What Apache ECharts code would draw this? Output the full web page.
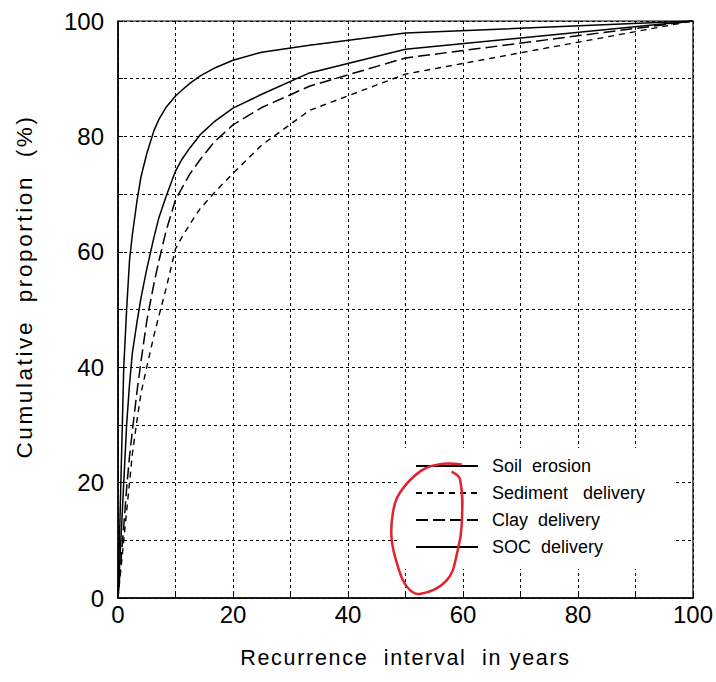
<!DOCTYPE html>
<html>
<head>
<meta charset="utf-8">
<script src="https://cdn.jsdelivr.net/npm/echarts@6/dist/echarts.min.js"></script>
<style>
html,body{margin:0;padding:0;background:#fff;}
#c{width:716px;height:682px;}
#c text{font-family:"Liberation Sans", Arial, sans-serif !important;}
#c text[style*="22.5px"]{letter-spacing:2.6px;}
#c text[style*="21.5px"]{letter-spacing:1.7px;}
</style>
</head>
<body>
<div id="c"></div>
<script>
// Recurrence interval (years) shared by all series
var recurrence = [0, 1, 1.5, 2, 2.5, 3.33, 4, 5, 6.25, 7.14, 8.33, 10, 11.1, 12.5, 14.3, 16.7, 20, 25, 33.3, 50, 100];
var soilErosion = [0, 40, 50, 58.5, 63, 69, 73, 77, 81, 83, 85, 87, 88, 89.2, 90.5, 91.8, 93.2, 94.6, 95.8, 97.9, 100];
var sedimentDelivery = [0, 10, 15, 20, 25, 31, 35.5, 40, 45.5, 49, 53.5, 60.5, 62.5, 64.8, 67.5, 70.2, 73.6, 78.5, 84.5, 90.8, 100];
var clayDelivery = [0, 12.5, 19, 24.5, 29, 36, 41, 48, 54.5, 58.5, 63.5, 69, 71, 73.5, 76, 79, 82, 85, 88.7, 93.6, 100];
var socDelivery = [0, 20, 30, 37, 42.5, 48, 52, 57, 62.5, 66, 69.5, 74, 76, 78, 80.3, 82.5, 84.9, 87.3, 91, 95.1, 100];
var seriesNames = ['Soil  erosion', 'Sediment   delivery', 'Clay  delivery', 'SOC  delivery'];
var xTicks = [0, 20, 40, 60, 80, 100];
var yTicks = [0, 20, 40, 60, 80, 100];
// hand-drawn red loop annotation, in data coordinates
var annotX = [58.0, 59.5, 59.8, 59.1, 57.2, 52.5, 50.2, 48.7, 47.6, 47.8, 49.0, 52.5, 56.0, 59.5, 59.8];
var annotY = [21.9, 20.5, 13.0, 8.3, 3.1, 0.7, 2.0, 5.4, 10.1, 14.7, 18.2, 21.9, 23.2, 23.2, 23.1];

function pairs(ys){ return recurrence.map(function(x,i){ return [x, ys[i]]; }); }

var FONT = '"Liberation Sans", Arial, sans-serif';
var chart = echarts.init(document.getElementById('c'), null, {renderer:'svg'});
var dashGrid = {show:true, lineStyle:{color:'#000', width:1, type:[3,3]}};
function mkSeries(name, ys, type, width){
  return {name:name, type:'line', data:pairs(ys), symbol:'none', showSymbol:false, smooth:false,
    lineStyle:{color:'#000', width:width, type:type}, itemStyle:{color:'#000'}, z:3};
}
chart.setOption({
  animation:false,
  backgroundColor:'#fff',
  grid:{left:118, right:23, top:21, bottom:84, show:true, borderColor:'#000', borderWidth:1.2, backgroundColor:'transparent'},
  xAxis:{type:'value', min:0, max:100, interval:20,
    name:'Recurrence  interval  in years', nameLocation:'middle', nameGap:49,
    nameTextStyle:{fontSize:21.5, color:'#000', fontFamily:FONT},
    axisLine:{show:true, lineStyle:{color:'#000', width:1.5}},
    axisTick:{show:true, inside:true, length:5, lineStyle:{color:'#000'}},
    minorTick:{show:true, splitNumber:2, length:5, lineStyle:{color:'#000'}},
    axisLabel:{fontSize:24, color:'#000', fontFamily:FONT, margin:4,
      formatter:function(v){ return xTicks.indexOf(v) >= 0 ? String(v) : ''; }},
    splitLine:dashGrid,
    minorSplitLine:dashGrid
  },
  yAxis:{type:'value', min:0, max:100, interval:20,
    name:'Cumulative  proportion  (%)', nameLocation:'middle', nameGap:82,
    nameTextStyle:{fontSize:22.5, color:'#000', fontFamily:FONT, padding:[0,0,0,46]},
    axisLine:{show:true, lineStyle:{color:'#000', width:1.5}},
    axisTick:{show:true, inside:true, length:5, lineStyle:{color:'#000'}},
    minorTick:{show:true, splitNumber:2, length:5, lineStyle:{color:'#000'}},
    axisLabel:{fontSize:24, color:'#000', fontFamily:FONT, margin:14,
      formatter:function(v){ return yTicks.indexOf(v) >= 0 ? String(v) : ''; }},
    splitLine:dashGrid,
    minorSplitLine:dashGrid
  },
  legend:{data:seriesNames, orient:'vertical', left:400, top:448,
    itemWidth:62, itemHeight:14, itemGap:9, padding:[9,30,13,15],
    backgroundColor:'#fff',
    itemStyle:{opacity:0},
    lineStyle:{opacity:1},
    textStyle:{fontSize:18, lineHeight:18, color:'#000', fontFamily:FONT, padding:[0,0,0,9]}},
  series:[
    mkSeries(seriesNames[0], soilErosion, 'solid', 1.5),
    mkSeries(seriesNames[1], sedimentDelivery, [6,5], 1.4),
    mkSeries(seriesNames[2], clayDelivery, [12,5], 1.5),
    mkSeries(seriesNames[3], socDelivery, 'solid', 1.5)
  ]
});
var pts = annotX.map(function(x,i){ return chart.convertToPixel({gridIndex:0}, [x, annotY[i]]); });
chart.setOption({graphic:[{type:'polyline', z:100, shape:{points:pts, smooth:0.4},
  style:{stroke:'#e3222f', lineWidth:2.5, fill:null}}]});
</script>
</body>
</html>
